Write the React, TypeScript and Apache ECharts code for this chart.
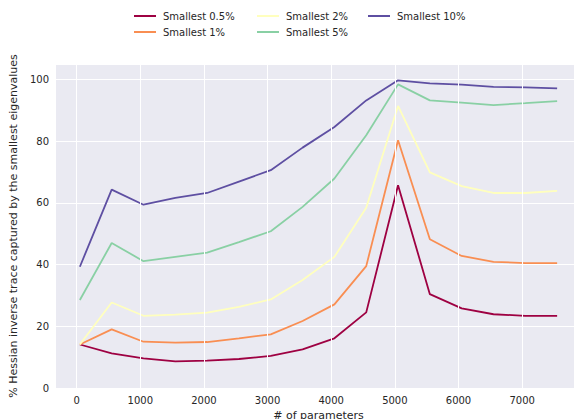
import React, { useEffect, useRef } from "react";
import * as echarts from "echarts";

const xValues = [50, 550, 1050, 1550, 2050, 2550, 3050, 3550, 4050, 4550, 5050, 5550, 6050, 6550, 7050, 7550];
const xTicks = [0, 1000, 2000, 3000, 4000, 5000, 6000, 7000];
const seriesNames = ["Smallest 0.5%", "Smallest 1%", "Smallest 2%", "Smallest 5%", "Smallest 10%"];
const s05 = [14.1, 11.2, 9.6, 8.6, 8.9, 9.4, 10.4, 12.5, 16.1, 24.5, 65.7, 30.4, 25.8, 23.9, 23.4, 23.4];
const s1 = [14.1, 19.0, 15.0, 14.7, 14.9, 16.1, 17.4, 21.7, 27.1, 39.5, 80.3, 48.2, 42.8, 40.9, 40.5, 40.5];
const s2 = [14.1, 27.7, 23.4, 23.8, 24.4, 26.3, 28.7, 35.0, 42.5, 58.4, 91.4, 69.9, 65.4, 63.2, 63.2, 63.9];
const s5 = [28.5, 47.0, 41.1, 42.5, 43.9, 47.3, 50.8, 58.7, 67.9, 81.9, 98.4, 93.2, 92.5, 91.7, 92.3, 93.0];
const s10 = [39.3, 64.3, 59.4, 61.6, 63.2, 66.9, 70.6, 77.9, 84.6, 93.2, 99.7, 98.7, 98.3, 97.6, 97.4, 97.1];
const seriesValues = [s05, s1, s2, s5, s10];
const colors = ["#9e0142", "#f98e52", "#ffffbe", "#89d0a4", "#5e4fa2"];

export default function App() {
  const ref = useRef<HTMLDivElement>(null);
  useEffect(() => {
    if (!ref.current) return;
    const chart = echarts.init(ref.current, undefined, { renderer: "svg" });
    const font = "DejaVu Sans";
    const legendBase = {
      orient: "vertical" as const,
      top: 10,
      padding: 0,
      icon: "rect",
      itemWidth: 22,
      itemHeight: 2,
      itemGap: 4,
      textStyle: { fontSize: 10, color: "#262626", fontFamily: font, lineHeight: 12, padding: [0, 0, 0, 2] },
    };
    chart.setOption({
      animation: false,
      textStyle: { fontFamily: font },
      color: colors,
      legend: [
        { ...legendBase, left: 134, data: [seriesNames[0], seriesNames[1]] },
        { ...legendBase, left: 257, data: [seriesNames[2], seriesNames[3]] },
        { ...legendBase, left: 368, data: [seriesNames[4]] },
      ],
      grid: {
        left: 56,
        right: -7,
        top: 64,
        bottom: 31,
        show: true,
        backgroundColor: "#eaeaf2",
        borderWidth: 0,
        containLabel: false,
        outerBoundsMode: "none",
      },
      xAxis: {
        type: "value",
        min: -325,
        max: 7925,
        name: "# of parameters",
        nameLocation: "middle",
        nameGap: 19,
        nameTextStyle: { fontSize: 11, color: "#262626", fontFamily: font },
        axisLine: { show: false },
        axisTick: { show: false },
        axisLabel: {
          fontSize: 10,
          color: "#262626",
          margin: 7,
          fontFamily: font,
          customValues: xTicks,
          formatter: (v: number) => String(v),
        },
        splitLine: { show: false },
      },
      yAxis: {
        type: "value",
        min: 0,
        max: 105,
        interval: 20,
        name: "% Hessian inverse trace captured by the smallest eigenvalues",
        nameLocation: "middle",
        nameGap: 30,
        nameTextStyle: { fontSize: 11, color: "#262626", fontFamily: font },
        axisLine: { show: false },
        axisTick: { show: false },
        axisLabel: { fontSize: 10, color: "#262626", margin: 7, fontFamily: font, showMaxLabel: false },
        splitLine: { show: true, lineStyle: { color: "#ffffff", width: 1 } },
      },
      series: [
        {
          name: "vgrid",
          type: "line",
          data: [],
          z: 1,
          silent: true,
          markLine: {
            silent: true,
            symbol: "none",
            label: { show: false },
            lineStyle: { color: "#ffffff", width: 1, type: "solid" },
            data: xTicks.map((x) => ({ xAxis: x })),
          },
        },
        ...seriesNames.map((name, i) => ({
          name,
          type: "line",
          z: 3,
          showSymbol: false,
          symbol: "none",
          data: xValues.map((x, j) => [x, seriesValues[i][j]]),
          lineStyle: { width: 1.8, color: colors[i] },
          itemStyle: { color: colors[i] },
        })),
      ],
    });
    return () => chart.dispose();
  }, []);
  return (
    <div
      ref={ref}
      style={{ position: "fixed", left: 0, top: 0, width: 574, height: 419, background: "#ffffff" }}
    />
  );
}
